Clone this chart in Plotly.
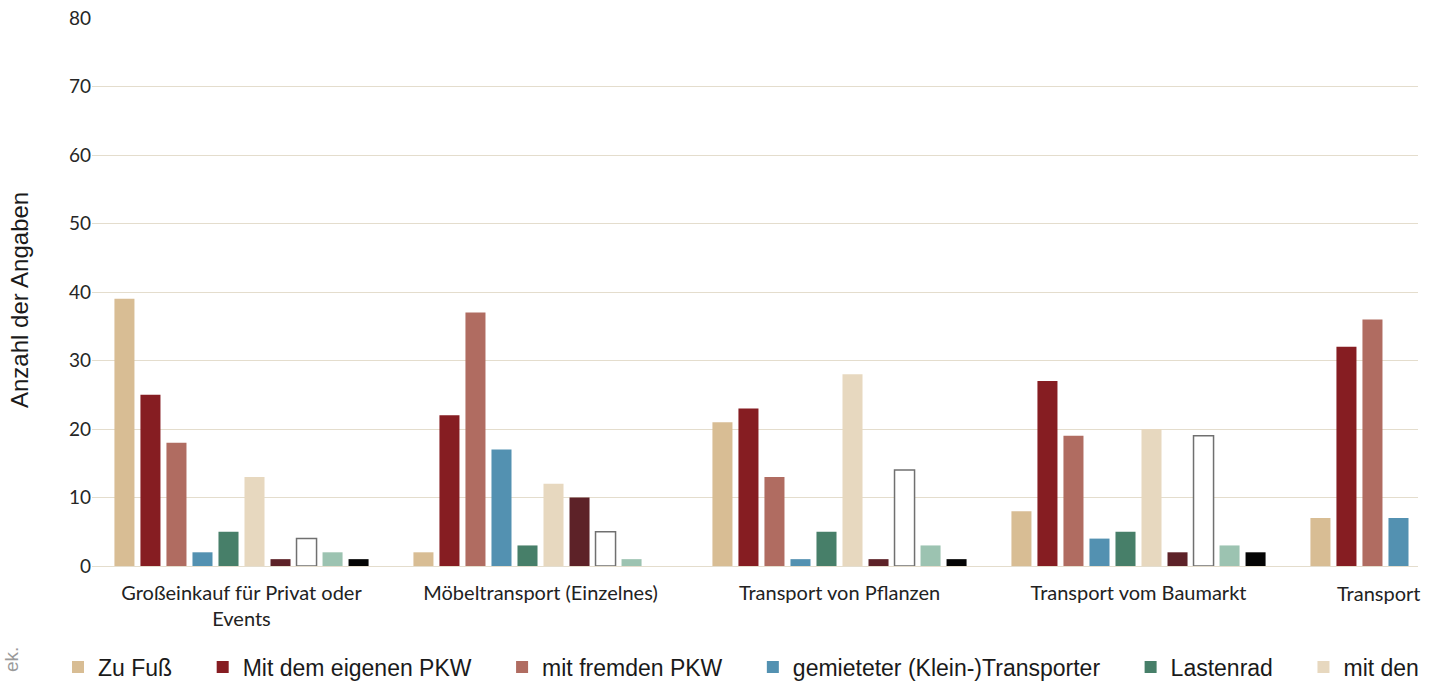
import plotly.graph_objects as go

# Transport purposes (x categories)
categories = [
    "Großeinkauf für Privat oder<br>Events",
    "Möbeltransport (Einzelnes)",
    "Transport von Pflanzen",
    "Transport vom Baumarkt",
    "Transport",
]

# Number of answers per transport mode
zu_fuss = [39, 2, 21, 8, 7]
eigener_pkw = [25, 22, 23, 27, 32]
fremder_pkw = [18, 37, 13, 19, 36]
transporter = [2, 17, 1, 4, 7]
lastenrad = [5, 3, 5, 5, None]
mit_den = [13, 12, 28, 20, None]
option_7 = [1, 10, 1, 2, None]
option_8 = [4, 5, 14, 19, None]
option_9 = [2, 1, 3, 3, None]
option_10 = [1, 0, 1, 2, None]

series = [
    ("Zu Fuß", zu_fuss, "#d8bd94", None, True),
    ("Mit dem eigenen PKW", eigener_pkw, "#861d22", None, True),
    ("mit fremden PKW", fremder_pkw, "#b06c61", None, True),
    ("gemieteter (Klein-)Transporter", transporter, "#5391b1", None, True),
    ("Lastenrad", lastenrad, "#477f69", None, True),
    ("mit den", mit_den, "#e7d8bf", None, True),
    ("Option 7", option_7, "#5d2228", None, False),
    ("Option 8", option_8, "#ffffff", "#707070", False),
    ("Option 9", option_9, "#9cc3b1", None, False),
    ("Option 10", option_10, "#050505", None, False),
]

W, H = 1434, 682
L, R, T, B = 92, 16, 18, 116
plot_w = W - L - R
plot_h = H - T - B

# extra spacing after each legend label except the last one shown
PAD = "\u00a0" * 4
last_shown = max(i for i, s in enumerate(series) if s[4])

fig = go.Figure()
for i, (name, vals, color, outline, show) in enumerate(series):
    label = name + PAD if show and i < last_shown else name
    fig.add_trace(go.Bar(
        name=label,
        x=categories,
        y=vals,
        marker=dict(
            color=color,
            line=dict(color=outline or color, width=1.5 if outline else 0),
        ),
        showlegend=show,
    ))

grid = "#e4ddcd"

fig.update_layout(
    template="none",
    width=W,
    height=H,
    margin=dict(l=L, r=R, t=T, b=B, autoexpand=False),
    paper_bgcolor="white",
    plot_bgcolor="white",
    barmode="group",
    bargap=0.13,
    bargroupgap=0.23,
    showlegend=True,
    legend=dict(
        orientation="h",
        x=(58 - L) / plot_w,
        xanchor="left",
        y=(566 - 667) / plot_h,
        yanchor="middle",
        font=dict(family="Liberation Sans, Arial", size=23, color="#1a1a1a"),
        itemwidth=30,
        bgcolor="rgba(0,0,0,0)",
    ),
    xaxis=dict(
        type="category",
        range=[-0.5, -0.5 + plot_w / 299.0],
        showgrid=False,
        showline=False,
        zeroline=False,
        ticks="",
        ticklabelstandoff=13,
        tickfont=dict(family="Lato", size=20, color="#222222"),
    ),
    yaxis=dict(
        range=[0, 80],
        dtick=10,
        showgrid=True,
        gridcolor=grid,
        gridwidth=1.3,
        zeroline=True,
        zerolinecolor=grid,
        zerolinewidth=1.3,
        showline=False,
        ticks="",
        tickfont=dict(family="Lato", size=19, color="#262626"),
    ),
)

# Label of the last category, starting at the left edge of its group
fig.add_annotation(
    text=categories[-1],
    xref="paper", yref="paper",
    x=(1335 - L) / plot_w, y=(566 - 593) / plot_h,
    xanchor="left", yanchor="middle",
    showarrow=False,
    font=dict(family="Lato", size=20, color="#222222"),
)

# Y-axis title
fig.add_annotation(
    text="Anzahl der Angaben",
    xref="paper", yref="paper",
    x=(19 - L) / plot_w, y=(566 - 300) / plot_h,
    xanchor="center", yanchor="middle",
    textangle=-90,
    showarrow=False,
    font=dict(family="Liberation Sans, Arial", size=24, color="#1a1a1a"),
)

# Vertical source note fragment at the bottom-left edge
fig.add_annotation(
    text="ek.",
    xref="paper", yref="paper",
    x=(11 - L) / plot_w, y=(566 - 660) / plot_h,
    xanchor="center", yanchor="middle",
    textangle=-90,
    showarrow=False,
    font=dict(family="Liberation Sans, Arial", size=19, color="#9a9a9a"),
)

fig.write_html("out.html")
